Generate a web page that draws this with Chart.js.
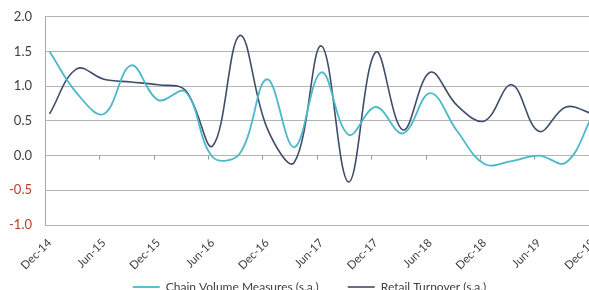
<!DOCTYPE html>
<html>
<head>
<meta charset="utf-8">
<script src="https://cdn.jsdelivr.net/npm/chart.js@4"></script>
<style>
  html, body { margin: 0; padding: 0; background: #fff; overflow: hidden; }
  canvas { display: block; margin-top: -4px; }
</style>
</head>
<body>
<canvas id="growthChart" width="606" height="332"></canvas>
<script>
// Trimestres (puntos de datos)
const quarters = ['Dec-14', 'Mar-15', 'Jun-15', 'Sep-15', 'Dec-15', 'Mar-16', 'Jun-16', 'Sep-16',
  'Dec-16', 'Mar-17', 'Jun-17', 'Sep-17', 'Dec-17', 'Mar-18', 'Jun-18', 'Sep-18',
  'Dec-18', 'Mar-19', 'Jun-19', 'Sep-19', 'Dec-19'];

// Series (% variación trimestral)
const chainVolume = [1.5, 0.9, 0.6, 1.3, 0.8, 0.92, -0.02, 0.03, 1.1, 0.12, 1.2, 0.3, 0.7, 0.32,
  0.9, 0.35, -0.12, -0.08, 0.0, -0.1, 0.6];
const retailTurnover = [0.6, 1.25, 1.1, 1.06, 1.02, 0.94, 0.14, 1.73, 0.4, -0.1, 1.58, -0.38, 1.49,
  0.37, 1.2, 0.72, 0.5, 1.02, 0.35, 0.7, 0.6];

// Etiquetas del eje X (cada 6 meses)
const tickLabels = ['Dec-14', 'Jun-15', 'Dec-15', 'Jun-16', 'Dec-16', 'Jun-17', 'Dec-17',
  'Jun-18', 'Dec-18', 'Jun-19', 'Dec-19'];

const FONT = 'Lato, "Liberation Sans", sans-serif';

// Eje X en meses: cada trimestre son 3 meses
function toPoints(values) {
    return quarters.map((q, i) => ({ x: i * 3, y: values[i] }));
}

// Pequeñas marcas sobre la línea del cero
const zeroTicks = {
    id: 'zeroTicks',
    beforeDatasetsDraw(chart) {
        const { ctx, scales: { x, y } } = chart;
        const y0 = y.getPixelForValue(0);
        ctx.save();
        ctx.strokeStyle = '#9a9a9a';
        ctx.lineWidth = 1;
        ctx.beginPath();
        for (let m = 5.5; m < 61; m += 6) {
            const px = Math.round(x.getPixelForValue(m)) + 0.5;
            ctx.moveTo(px, y0);
            ctx.lineTo(px, y0 + 4);
        }
        ctx.stroke();
        ctx.restore();
    }
};

// Mover la leyenda un poco (más arriba y a la derecha, como en el original)
const legendShift = {
    id: 'legendShift',
    afterLayout(chart) {
        const lg = chart.legend;
        const h = lg.bottom - lg.top;
        lg.top = 256;
        lg.bottom = 256 + h;
        lg.left += 9;
        lg.right += 9;
    }
};

const ctx = document.getElementById('growthChart').getContext('2d');
const growthChart = new Chart(ctx, {
    type: 'line',
    data: {
        datasets: [{
            label: 'Chain Volume Measures (s.a.)',
            data: toPoints(chainVolume),
            borderColor: '#4bb9c9',
            borderWidth: 1.8,
            pointRadius: 0,
            tension: 0.38,
            fill: false
        }, {
            label: 'Retail Turnover (s.a.)',
            data: toPoints(retailTurnover),
            borderColor: '#3f4d6b',
            borderWidth: 1.6,
            pointRadius: 0,
            tension: 0.38,
            fill: false
        }]
    },
    options: {
        responsive: false,
        animation: false,
        layout: { padding: { top: 0, right: 5, left: 0, bottom: 0 } },
        plugins: {
            tooltip: { enabled: false },
            legend: {
                position: 'bottom',
                labels: {
                    usePointStyle: true,
                    pointStyle: 'line',
                    pointStyleWidth: 27,
                    padding: 29,
                    color: '#404040',
                    font: { family: FONT, size: 12 }
                }
            }
        },
        scales: {
            x: {
                type: 'linear',
                min: -0.5,
                max: 60.5,
                grid: { display: false },
                border: { display: false },
                afterBuildTicks: scale => {
                    scale.ticks = tickLabels.map((t, i) => ({ value: i * 6 }));
                },
                afterFit: scale => { scale.height = 52; },
                ticks: {
                    autoSkip: false,
                    maxRotation: 45,
                    minRotation: 45,
                    padding: 3,
                    color: '#404040',
                    font: { family: FONT, size: 11.5 },
                    callback: value => tickLabels[value / 6]
                }
            },
            y: {
                min: -1,
                max: 2,
                grid: { color: '#b4b4b4', drawTicks: false },
                border: { display: true, color: '#a8a8a8' },
                afterFit: scale => { scale.width = 45; },
                ticks: {
                    stepSize: 0.5,
                    padding: 13,
                    font: { family: FONT, size: 13 },
                    color: c => c.tick.value < 0 ? '#c0392b' : '#404040',
                    callback: v => v.toFixed(1)
                }
            }
        }
    },
    plugins: [zeroTicks, legendShift]
});
</script>
</body>
</html>
